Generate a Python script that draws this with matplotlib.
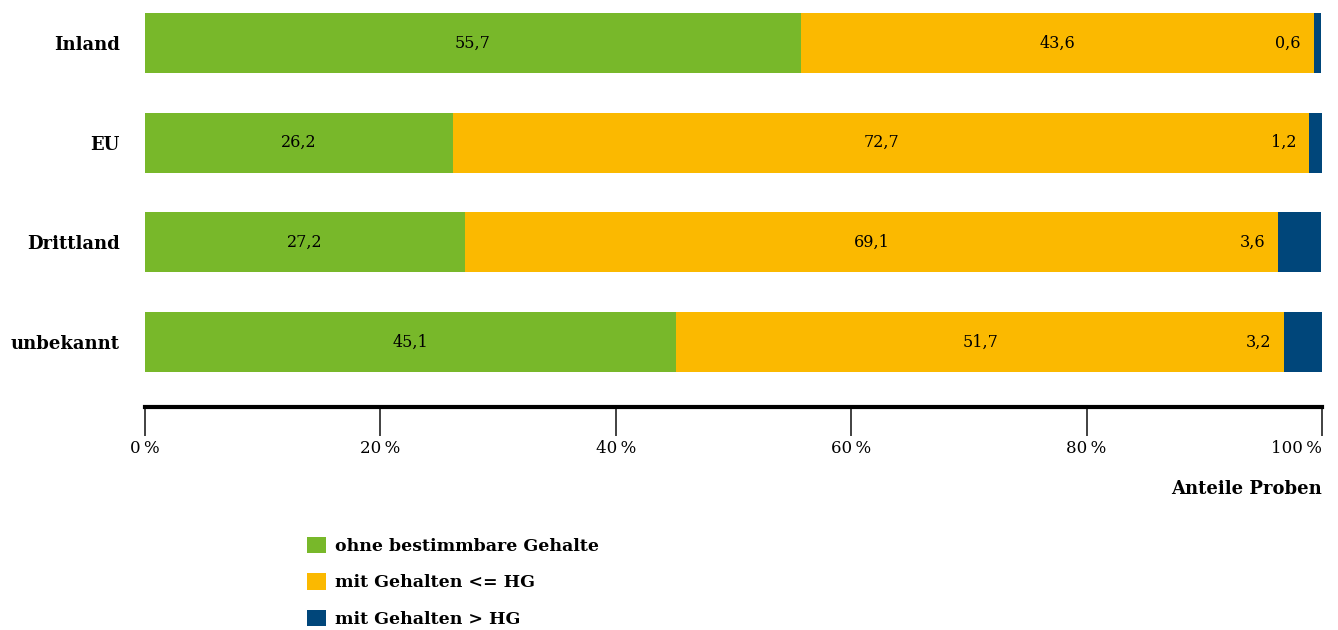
import matplotlib.pyplot as plt
from matplotlib.patches import Patch
from matplotlib.ticker import FuncFormatter

plt.rcParams['font.family'] = ['DejaVu Serif']

# Anteile der Proben je Herkunft (in %)
herkunft = ['Inland', 'EU', 'Drittland', 'unbekannt']
ohne_gehalte = [55.7, 26.2, 27.2, 45.1]
gehalte_unter_hg = [43.6, 72.7, 69.1, 51.7]
gehalte_ueber_hg = [0.6, 1.2, 3.6, 3.2]

serien = ['ohne bestimmbare Gehalte', 'mit Gehalten <= HG', 'mit Gehalten > HG']
farben = ['#78B82A', '#FBB900', '#00467A']
x_ticks = [0, 20, 40, 60, 80, 100]


def fmt(v):
    return f'{v:.1f}'.replace('.', ',')


fig = plt.figure(figsize=(13.38, 6.30), dpi=100)
ax = fig.add_axes([145 / 1338, 1 - 407 / 630, 1177 / 1338, 394 / 630])

pos = list(range(len(herkunft)))
left = [0.0] * len(herkunft)
for werte, farbe in zip([ohne_gehalte, gehalte_unter_hg, gehalte_ueber_hg], farben):
    ax.barh(pos, werte, left=left, height=0.6, color=farbe, linewidth=0)
    left = [l + w for l, w in zip(left, werte)]

# Beschriftungen: Mitte fuer gruen/gelb, die kleinen Werte links vom blauen Segment
for i in pos:
    g, y, b = ohne_gehalte[i], gehalte_unter_hg[i], gehalte_ueber_hg[i]
    ax.text(g / 2, i, fmt(g), ha='center', va='center', fontsize=11.5)
    ax.text(g + y / 2, i, fmt(y), ha='center', va='center', fontsize=11.5)
    ax.text(g + y - 1.1, i, fmt(b), ha='right', va='center', fontsize=11.5)

ax.set_xlim(0, 100)
ax.set_ylim(3.652, -0.3)
ax.set_yticks(pos)
ax.set_yticklabels(herkunft, fontsize=13, fontweight='bold')
ax.tick_params(axis='y', length=0, pad=18)
ax.set_xticks(x_ticks)
ax.xaxis.set_major_formatter(FuncFormatter(lambda v, p: f'{v:.0f}\u2009%'))
ax.tick_params(axis='x', length=21, width=1.3, color='#333333', labelsize=12, pad=3)
ax.get_xticklabels()[-1].set_horizontalalignment('right')

for s in ['top', 'right', 'left']:
    ax.spines[s].set_visible(False)
ax.spines['bottom'].set_linewidth(3)

ax.set_xlabel('Anteile Proben', fontsize=13, fontweight='bold', loc='right',
              labelpad=16)

handles = [Patch(facecolor=f, edgecolor='none') for f in farben]
fig.legend(handles, serien, loc='upper left', bbox_to_anchor=(291 / 1338, 1 - 521 / 630),
           frameon=False, prop={'size': 12.5, 'weight': 'bold'},
           handlelength=1.1, handleheight=1.1, handletextpad=0.55, labelspacing=1.05)

fig.savefig('out.png', dpi=100)
